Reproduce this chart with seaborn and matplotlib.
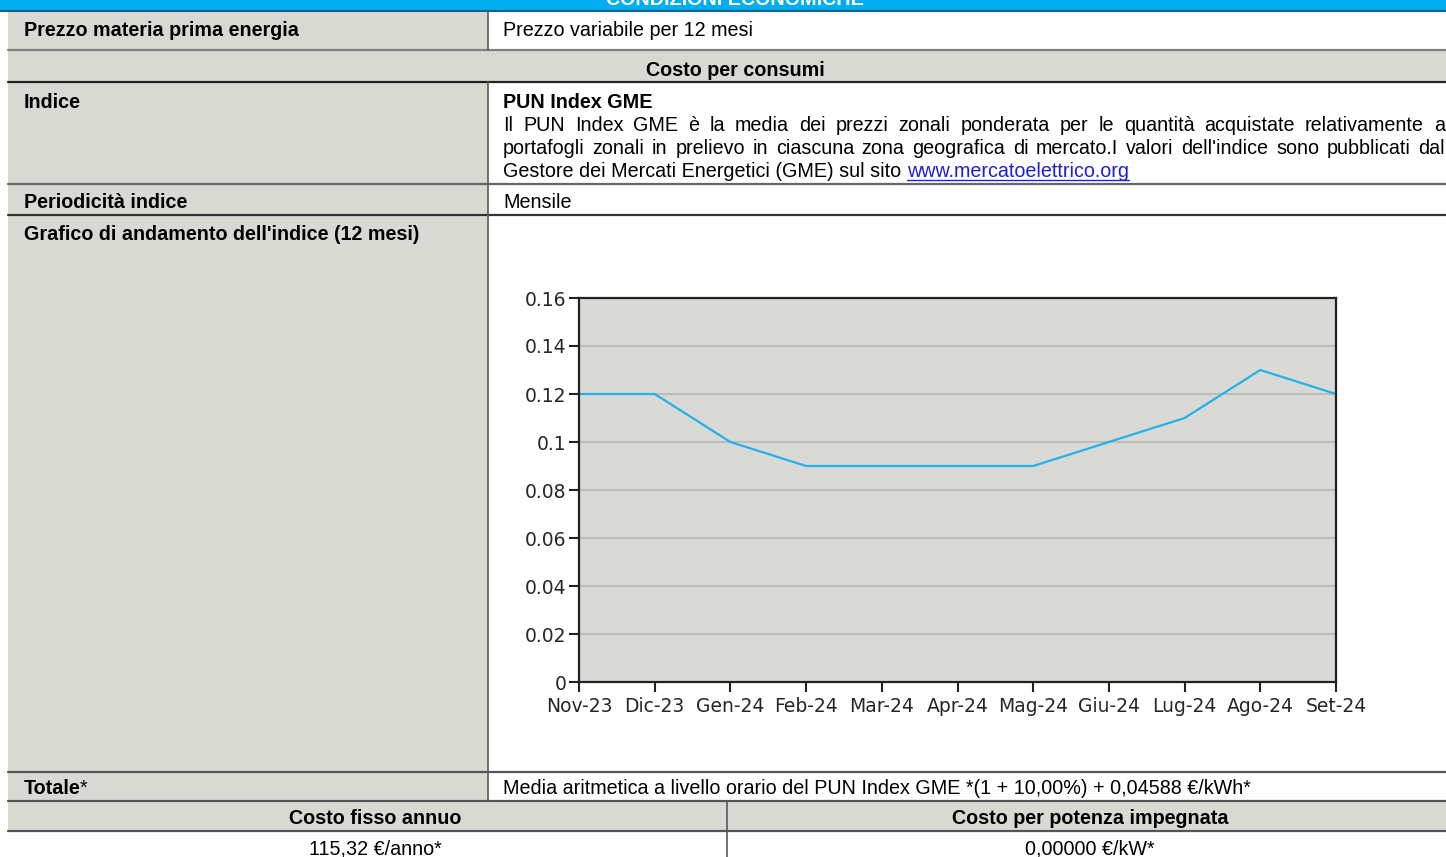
import matplotlib
matplotlib.use("Agg")
import matplotlib.pyplot as plt
from matplotlib.patches import Rectangle
import seaborn as sns
import pandas as pd

# data
mesi = ["Nov-23", "Dic-23", "Gen-24", "Feb-24", "Mar-24", "Apr-24",
        "Mag-24", "Giu-24", "Lug-24", "Ago-24", "Set-24"]
pun = [0.12, 0.12, 0.10, 0.09, 0.09, 0.09, 0.09, 0.10, 0.11, 0.13, 0.12]
y_ticks = [0, 0.02, 0.04, 0.06, 0.08, 0.10, 0.12, 0.14, 0.16]
y_labels = ["0", "0.02", "0.04", "0.06", "0.08", "0.1", "0.12", "0.14", "0.16"]

# table texts
par_line1 = "Il  PUN Index GME è la media dei prezzi zonali ponderata per le quantità acquistate relativamente a"
par_line2 = "portafogli zonali in prelievo in ciascuna zona geografica di mercato.I valori dell'indice sono pubblicati dal"
par_line3 = "Gestore dei Mercati Energetici (GME) sul sito"
link = "www.mercatoelettrico.org"

sns.set_style("white")
plt.rcParams["font.family"] = ["Liberation Sans", "DejaVu Sans"]

GRAY = "#d9d9d4"
LINE = "#5a5a5a"
FS = 14.2

fig = plt.figure(figsize=(14.46, 8.57), dpi=100)
bg = fig.add_axes([0, 0, 1, 1])
bg.set_xlim(0, 1446)
bg.set_ylim(857, 0)
bg.axis("off")

# banner (title cut off at the top, as in the source page)
bg.add_patch(Rectangle((0, 0), 1446, 10.5, color="#00aeef", lw=0))
bg.plot([0, 1446], [10.5, 10.5], color="#1b5e86", lw=1.5)
bg.text(735, 4.5, "CONDIZIONI ECONOMICHE", color="white", fontsize=FS,
        fontweight="bold", ha="center", va="baseline")

# gray cells
bg.add_patch(Rectangle((8, 11), 480, 790, color=GRAY, lw=0))
bg.add_patch(Rectangle((8, 50), 1438, 32, color=GRAY, lw=0))
bg.add_patch(Rectangle((8, 801), 1438, 30, color=GRAY, lw=0))

# lines
for yy, c in [(50, "#808080"), (82, "#222222"), (184, "#666666"),
              (215, "#333333"), (772, "#555555"), (801, "#555555"),
              (831, "#555555")]:
    bg.plot([8, 1446], [yy, yy], color=c, lw=1.6)
bg.plot([488, 488], [11, 50], color=LINE, lw=1.2)
bg.plot([488, 488], [82, 801], color=LINE, lw=1.2)
bg.plot([727, 727], [801, 857], color=LINE, lw=1.2)

def txt(x, y, s, bold=False, ha="left", color="black"):
    return bg.text(x, y, s, fontsize=FS, ha=ha, va="center",
                   fontweight="bold" if bold else "normal", color=color)

txt(24, 30, "Prezzo materia prima energia", bold=True)
txt(503, 30, "Prezzo variabile per 12 mesi")
txt(735, 70, "Costo per consumi", bold=True, ha="center")
txt(24, 102, "Indice", bold=True)
txt(503, 102, "PUN Index GME", bold=True)
txt(24, 202, "Periodicità indice", bold=True)
txt(503, 202, "Mensile")
txt(24, 234, "Grafico di andamento dell'indice (12 mesi)", bold=True)
tot = txt(24, 788, "Totale", bold=True)
txt(503, 788, "Media aritmetica a livello orario del PUN Index GME *(1 + 10,00%) + 0,04588 €/kWh*")
txt(375, 819, "Costo fisso annuo", bold=True, ha="center")
txt(1090, 819, "Costo per potenza impegnata", bold=True, ha="center")
txt(375, 849, "115,32 €/anno*", ha="center")
txt(1090, 849, "0,00000 €/kW*", ha="center")

renderer = fig.canvas.get_renderer()

def justify(s, y, x0, x1):
    words = s.split()
    texts = [txt(0, y, w) for w in words]
    widths = [t.get_window_extent(renderer).width for t in texts]
    gap = (x1 - x0 - sum(widths)) / (len(words) - 1)
    x = x0
    for t, w in zip(texts, widths):
        t.set_x(x)
        x += w + gap

justify(par_line1, 125, 503, 1445)
justify(par_line2, 148, 503, 1445)
g = txt(503, 171, par_line3)
gx = 503 + g.get_window_extent(renderer).width + 6
lk = txt(gx, 171, link, color="#1f1fd6")
lw_ = lk.get_window_extent(renderer).width
bg.plot([gx, gx + lw_], [180, 180], color="#1f1fd6", lw=1.0)
tw = tot.get_window_extent(renderer).width
txt(24 + tw - 1, 788, "*")

# chart
ax = fig.add_axes([579 / 1446, 1 - 682 / 857, (1336 - 579) / 1446, (682 - 298) / 857])
df = pd.DataFrame({"mese": mesi, "pun": pun})
sns.lineplot(data=df, x="mese", y="pun", ax=ax, color="#22b2ea", lw=1.6, sort=False)
ax.set_facecolor("#d9d9d5")
ax.set_xlim(0, len(mesi) - 1)
ax.set_ylim(0, 0.16)
ax.set_yticks(y_ticks)
ax.set_yticklabels(y_labels)
ax.set_xlabel("")
ax.set_ylabel("")
ax.grid(axis="y", color="#bdbdbd", lw=1.5)
ax.set_axisbelow(True)
for sp in ax.spines.values():
    sp.set_visible(True)
    sp.set_color("#222222")
    sp.set_linewidth(1.6)
ax.tick_params(axis="both", direction="out", length=7, width=1.5, color="#222222",
               labelsize=13.5, left=True, bottom=True)
ax.tick_params(axis="y", pad=2)
ax.tick_params(axis="x", pad=4)
for lab in ax.get_xticklabels() + ax.get_yticklabels():
    lab.set_family("DejaVu Sans")

fig.savefig("out.png", dpi=100)
